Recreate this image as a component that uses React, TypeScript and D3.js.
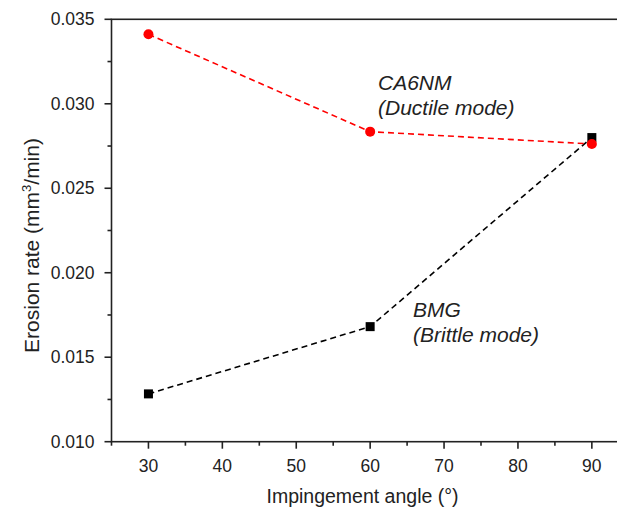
import React, { useEffect, useRef } from "react";
import * as d3 from "d3";

const angles = [30, 60, 90];
const ca6nmRates = [0.03411, 0.02835, 0.02762];
const bmgRates = [0.01283, 0.01681, 0.0280];
const xMajorTicks = [30, 40, 50, 60, 70, 80, 90];
const xMinorTicks = [25, 35, 45, 55, 65, 75, 85, 95];
const yMajorTicks = [0.01, 0.015, 0.02, 0.025, 0.03, 0.035];
const yMinorTicks = [0.0125, 0.0175, 0.0225, 0.0275, 0.0325];

const W = 617;
const H = 510;
const FONT = "'Liberation Sans', Arial, sans-serif";

export default function App() {
  const ref = useRef<SVGSVGElement | null>(null);

  useEffect(() => {
    const svg = d3.select(ref.current);
    svg.selectAll("*").remove();

    const x = d3.scaleLinear().domain([25, 95]).range([111.5, 628.8]);
    const y = d3.scaleLinear().domain([0.01, 0.035]).range([441.7, 19.3]);
    const [x0] = x.range();
    const [yb, yt] = y.range();

    const g = svg.append("g");

    // frame
    g.append("rect")
      .attr("x", x0)
      .attr("y", yt)
      .attr("width", x(95) - x0)
      .attr("height", yb - yt)
      .attr("fill", "none")
      .attr("stroke", "#222")
      .attr("stroke-width", 1.6);

    // x ticks
    g.selectAll(".xmaj")
      .data(xMajorTicks)
      .enter()
      .append("line")
      .attr("x1", (d) => x(d))
      .attr("x2", (d) => x(d))
      .attr("y1", yb)
      .attr("y2", yb + 7)
      .attr("stroke", "#222")
      .attr("stroke-width", 1.6);
    g.selectAll(".xmin")
      .data(xMinorTicks)
      .enter()
      .append("line")
      .attr("x1", (d) => x(d))
      .attr("x2", (d) => x(d))
      .attr("y1", yb)
      .attr("y2", yb + 4)
      .attr("stroke", "#222")
      .attr("stroke-width", 1.6);
    g.selectAll(".xlab")
      .data(xMajorTicks)
      .enter()
      .append("text")
      .attr("x", (d) => x(d))
      .attr("y", 472)
      .attr("text-anchor", "middle")
      .attr("font-family", FONT)
      .attr("font-size", 17.5)
      .attr("fill", "#222")
      .text((d) => String(d));

    // y ticks
    g.selectAll(".ymaj")
      .data(yMajorTicks)
      .enter()
      .append("line")
      .attr("x1", x0 - 7)
      .attr("x2", x0)
      .attr("y1", (d) => y(d))
      .attr("y2", (d) => y(d))
      .attr("stroke", "#222")
      .attr("stroke-width", 1.6);
    g.selectAll(".ymin")
      .data(yMinorTicks)
      .enter()
      .append("line")
      .attr("x1", x0 - 4)
      .attr("x2", x0)
      .attr("y1", (d) => y(d))
      .attr("y2", (d) => y(d))
      .attr("stroke", "#222")
      .attr("stroke-width", 1.6);
    g.selectAll(".ylab")
      .data(yMajorTicks)
      .enter()
      .append("text")
      .attr("x", 94.5)
      .attr("y", (d) => y(d))
      .attr("dy", "0.35em")
      .attr("text-anchor", "end")
      .attr("font-family", FONT)
      .attr("font-size", 17.5)
      .attr("fill", "#222")
      .text((d) => d3.format(".3f")(d));

    // axis titles
    g.append("text")
      .attr("x", 362.5)
      .attr("y", 503)
      .attr("text-anchor", "middle")
      .attr("font-family", FONT)
      .attr("font-size", 19.5)
      .attr("fill", "#222")
      .text("Impingement angle (°)");

    const yt1 = g
      .append("text")
      .attr("transform", "translate(39,245.5) rotate(-90)")
      .attr("text-anchor", "middle")
      .attr("font-family", FONT)
      .attr("font-size", 21)
      .attr("fill", "#222");
    yt1.append("tspan").text("Erosion rate (mm");
    yt1.append("tspan").attr("font-size", 13).attr("dy", -8).text("3");
    yt1.append("tspan").attr("dy", 8).text("/min)");

    const line = d3
      .line<number>()
      .x((_, i) => x(angles[i]))
      .y((d) => y(d));

    // BMG
    g.append("path")
      .attr("d", line(bmgRates) as string)
      .attr("fill", "none")
      .attr("stroke", "#000")
      .attr("stroke-width", 1.6)
      .attr("stroke-dasharray", "6,4");
    g.selectAll(".bmg")
      .data(bmgRates)
      .enter()
      .append("rect")
      .attr("x", (_, i) => x(angles[i]) - 4.5)
      .attr("y", (d) => y(d) - 4.5)
      .attr("width", 9)
      .attr("height", 9)
      .attr("fill", "#000");

    // CA6NM
    g.append("path")
      .attr("d", line(ca6nmRates) as string)
      .attr("fill", "none")
      .attr("stroke", "#ff0000")
      .attr("stroke-width", 1.6)
      .attr("stroke-dasharray", "6,4");
    g.selectAll(".ca")
      .data(ca6nmRates)
      .enter()
      .append("circle")
      .attr("cx", (_, i) => x(angles[i]))
      .attr("cy", (d) => y(d))
      .attr("r", 5)
      .attr("fill", "#ff0000");

    // annotations
    const ann = (tx: number, ty: number, lines: string[]) => {
      lines.forEach((s, i) => {
        g.append("text")
          .attr("x", tx)
          .attr("y", ty + i * 25.5)
          .attr("font-family", FONT)
          .attr("font-size", 21)
          .attr("font-style", "italic")
          .attr("fill", "#222")
          .text(s);
      });
    };
    ann(378, 89.5, ["CA6NM", "(Ductile mode)"]);
    ann(413, 316.5, ["BMG", "(Brittle mode)"]);
  }, []);

  return (
    <div style={{ position: "absolute", left: 0, top: 0, width: W, height: H, background: "#fff" }}>
      <svg ref={ref} width={W} height={H} style={{ display: "block", overflow: "hidden" }} />
    </div>
  );
}
